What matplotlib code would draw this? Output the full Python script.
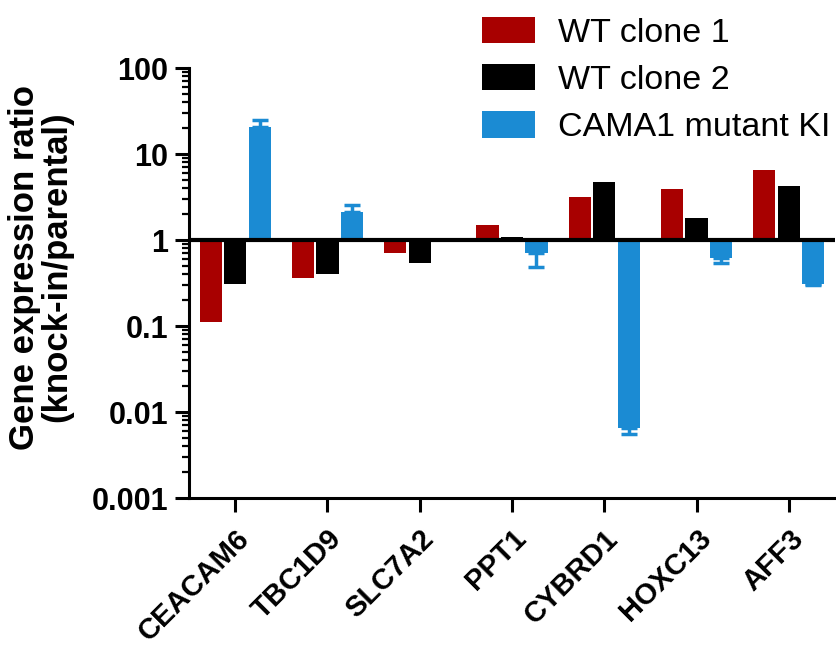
import matplotlib
matplotlib.use('Agg')
import matplotlib.pyplot as plt
import matplotlib.transforms as mtransforms
from matplotlib.ticker import LogLocator, FixedLocator, FixedFormatter, NullFormatter
from matplotlib.patches import Patch
import numpy as np

# valeurs (ratio knock-in / parental)
genes = ['CEACAM6', 'TBC1D9', 'SLC7A2', 'PPT1', 'CYBRD1', 'HOXC13', 'AFF3']
wt_clone1 = [0.11, 0.36, 0.70, 1.5, 3.2, 3.9, 6.5]
wt_clone2 = [0.31, 0.40, 0.54, 1.08, 4.7, 1.8, 4.3]
mutant_ki = [20.5, 2.1, 1.05, 0.70, 0.0065, 0.62, 0.31]
# extrémité de la barre d'erreur (un seul côté, vers l'extérieur)
mutant_ki_err = [25.0, 2.55, 1.05, 0.48, 0.0055, 0.54, 0.30]

series_labels = ['WT clone 1', 'WT clone 2', 'CAMA1 mutant KI']
colors = ['#A80000', '#000000', '#1B8BD3']
y_ticks = [0.001, 0.01, 0.1, 1, 10, 100]
y_tick_labels = ['0.001', '0.01', '0.1', '1', '10', '100']

plt.rcParams['font.family'] = ['Liberation Sans', 'DejaVu Sans']

fig = plt.figure(figsize=(8.37, 6.52), dpi=100)
ax = fig.add_axes([189 / 837, 1 - 498 / 652, (835 - 189) / 837, (498 - 68) / 652])

x = np.arange(len(genes))
width = 0.24
offsets = [-0.265, 0.0, 0.265]
all_series = [wt_clone1, wt_clone2, mutant_ki]

for serie, off, col in zip(all_series, offsets, colors):
    vals = np.array(serie)
    ax.bar(x + off, vals - 1, bottom=1, width=width, color=col, zorder=2)

# barres d'erreur du mutant, d'un seul côté
vals = np.array(mutant_ki)
ends = np.array(mutant_ki_err)
lower = np.where(ends < vals, vals - ends, 0)
upper = np.where(ends > vals, ends - vals, 0)
has_err = np.abs(ends - vals) > 1e-9
ax.errorbar(x[has_err] + offsets[2], vals[has_err],
            yerr=[lower[has_err], upper[has_err]],
            fmt='none', ecolor=colors[2], elinewidth=2.5, capsize=6, capthick=2.5, zorder=1)

# ligne de base à 1
ax.axhline(1, color='black', lw=3, zorder=3)

ax.set_yscale('log')
ax.set_ylim(0.001, 100)
ax.set_xlim(-0.5, 6.5)

ax.yaxis.set_major_locator(FixedLocator(y_ticks))
ax.yaxis.set_major_formatter(FixedFormatter(y_tick_labels))
ax.yaxis.set_minor_locator(LogLocator(base=10, subs=np.arange(2, 10)))
ax.yaxis.set_minor_formatter(NullFormatter())

ax.set_xticks(x)
ax.set_xticklabels(genes, rotation=45, ha='right', rotation_mode='anchor',
                   fontsize=21, fontweight='bold')
# petit décalage des étiquettes vers la gauche
decal = mtransforms.ScaledTranslation(-8 / 100, 0, fig.dpi_scale_trans)
for lab in ax.get_xticklabels():
    lab.set_transform(lab.get_transform() + decal)

for lab in ax.get_yticklabels():
    lab.set_fontweight('bold')
    lab.set_fontsize(22)

ax.tick_params(axis='y', which='major', length=10, width=2.2, pad=5, direction='out')
ax.tick_params(axis='y', which='minor', length=5, width=1.6, direction='out')
ax.tick_params(axis='x', which='major', length=10, width=2.2, pad=9, direction='out')

for s in ['top', 'right']:
    ax.spines[s].set_visible(False)
for s in ['left', 'bottom']:
    ax.spines[s].set_linewidth(2.2)

fig.text(41 / 837, 1 - 267 / 652, 'Gene expression ratio\n(knock-in/parental)',
         rotation=90, ha='center', va='center', multialignment='center',
         fontsize=25, fontweight='bold', linespacing=0.98)

handles = [Patch(facecolor=c, edgecolor='none') for c in colors]
fig.legend(handles, series_labels, loc='upper left', bbox_to_anchor=(482 / 837, 1 - 17 / 652),
           frameon=False, fontsize=24.5, borderpad=0, borderaxespad=0,
           handlelength=1.56, handleheight=0.82, handletextpad=0.68, labelspacing=0.44)

fig.savefig('out.png', dpi=100)
